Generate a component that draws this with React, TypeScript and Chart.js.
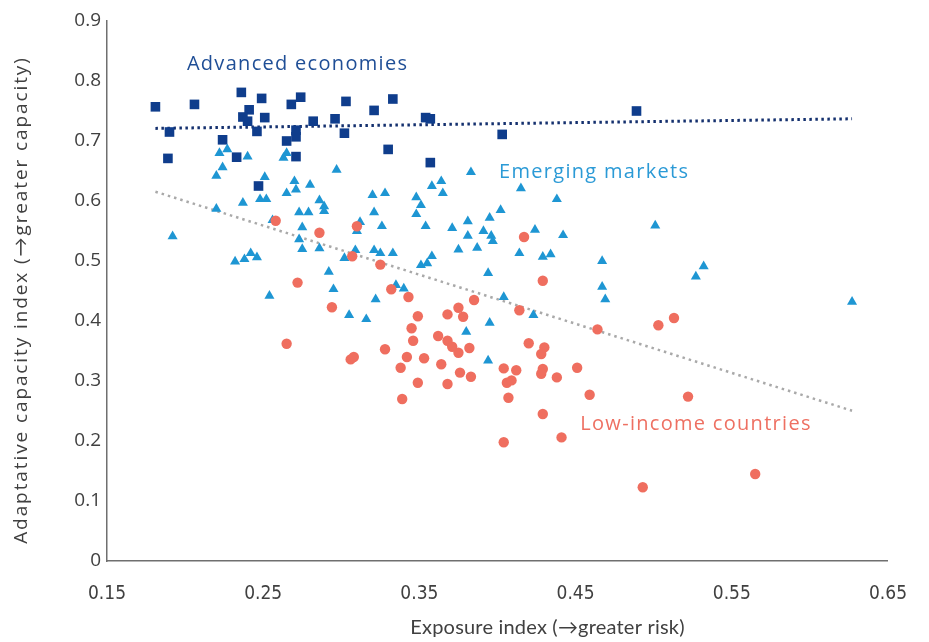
import React, { useEffect, useRef } from 'react';
import { Chart, registerables } from 'chart.js';

Chart.register(...registerables);

// Advanced economies (exposure, adaptive capacity)
const advanced: [number, number][] = [
  [0.181, 0.757], [0.190, 0.715], [0.189, 0.671], [0.206, 0.761], [0.224, 0.702],
  [0.233, 0.673], [0.236, 0.781], [0.241, 0.752], [0.237, 0.740], [0.240, 0.733],
  [0.246, 0.716], [0.247, 0.625], [0.249, 0.771], [0.251, 0.739], [0.268, 0.761],
  [0.274, 0.773], [0.265, 0.700], [0.271, 0.707], [0.271, 0.718], [0.271, 0.674],
  [0.282, 0.733], [0.296, 0.737], [0.302, 0.713], [0.303, 0.766], [0.321, 0.751],
  [0.330, 0.686], [0.333, 0.770], [0.354, 0.739], [0.357, 0.737], [0.357, 0.664],
  [0.403, 0.711], [0.489, 0.750],
];

// Emerging markets
const emerging: [number, number][] = [
  [0.222, 0.680], [0.227, 0.686], [0.240, 0.674], [0.263, 0.672], [0.265, 0.680],
  [0.224, 0.656], [0.220, 0.642], [0.297, 0.652], [0.251, 0.640], [0.270, 0.633],
  [0.271, 0.619], [0.265, 0.613], [0.280, 0.627], [0.320, 0.610], [0.328, 0.613],
  [0.348, 0.606], [0.351, 0.593], [0.358, 0.625], [0.364, 0.633], [0.365, 0.613],
  [0.237, 0.597], [0.248, 0.603], [0.252, 0.603], [0.286, 0.601], [0.289, 0.591],
  [0.289, 0.583], [0.220, 0.587], [0.273, 0.581], [0.279, 0.581], [0.321, 0.581],
  [0.348, 0.578], [0.192, 0.541], [0.256, 0.568], [0.275, 0.556], [0.273, 0.536],
  [0.275, 0.520], [0.286, 0.521], [0.312, 0.565], [0.310, 0.550], [0.326, 0.558],
  [0.354, 0.558], [0.309, 0.518], [0.302, 0.505], [0.321, 0.518], [0.325, 0.513],
  [0.333, 0.513], [0.358, 0.508], [0.351, 0.493], [0.355, 0.496], [0.232, 0.499],
  [0.238, 0.503], [0.242, 0.513], [0.246, 0.506], [0.292, 0.482], [0.295, 0.453],
  [0.335, 0.460], [0.340, 0.454], [0.254, 0.442], [0.322, 0.436], [0.305, 0.410],
  [0.316, 0.403], [0.383, 0.648], [0.415, 0.621], [0.438, 0.603], [0.402, 0.585],
  [0.381, 0.566], [0.395, 0.572], [0.371, 0.555], [0.391, 0.550], [0.396, 0.542],
  [0.397, 0.533], [0.381, 0.542], [0.424, 0.552], [0.442, 0.543], [0.501, 0.559],
  [0.375, 0.519], [0.387, 0.522], [0.414, 0.513], [0.429, 0.507], [0.434, 0.511],
  [0.467, 0.500], [0.394, 0.480], [0.467, 0.457], [0.469, 0.436], [0.404, 0.440],
  [0.423, 0.410], [0.395, 0.397], [0.380, 0.382], [0.394, 0.334], [0.532, 0.491],
  [0.527, 0.474], [0.627, 0.432],
];

// Low-income countries
const lowIncome: [number, number][] = [
  [0.258, 0.567], [0.286, 0.547], [0.310, 0.558], [0.307, 0.508], [0.325, 0.494],
  [0.272, 0.464], [0.332, 0.453], [0.343, 0.440], [0.294, 0.423], [0.385, 0.435],
  [0.417, 0.540], [0.429, 0.467], [0.414, 0.418], [0.464, 0.386], [0.349, 0.408],
  [0.368, 0.411], [0.375, 0.422], [0.378, 0.407], [0.345, 0.388], [0.362, 0.375],
  [0.346, 0.367], [0.368, 0.367], [0.371, 0.357], [0.375, 0.347], [0.382, 0.355],
  [0.265, 0.362], [0.328, 0.353], [0.420, 0.363], [0.430, 0.356], [0.428, 0.345],
  [0.306, 0.336], [0.308, 0.340], [0.342, 0.340], [0.353, 0.338], [0.364, 0.328],
  [0.338, 0.322], [0.376, 0.314], [0.383, 0.307], [0.404, 0.321], [0.412, 0.318],
  [0.429, 0.320], [0.428, 0.312], [0.438, 0.306], [0.451, 0.322], [0.349, 0.297],
  [0.368, 0.295], [0.406, 0.297], [0.409, 0.301], [0.407, 0.272], [0.339, 0.270],
  [0.459, 0.277], [0.429, 0.245], [0.441, 0.206], [0.404, 0.198], [0.503, 0.393],
  [0.513, 0.405], [0.522, 0.274], [0.493, 0.123], [0.565, 0.145],
];

// Trend lines (start and end points)
const advancedTrend: [number, number][] = [[0.181, 0.721], [0.627, 0.737]];
const overallTrend: [number, number][] = [[0.181, 0.6155], [0.627, 0.2505]];

const xTicks = [0.15, 0.25, 0.35, 0.45, 0.55, 0.65];
const yTicks = [0, 0.1, 0.2, 0.3, 0.4, 0.5, 0.6, 0.7, 0.8, 0.9];

const xTitle = 'Exposure index (\u2192greater risk)';
const yTitle = 'Adaptative capacity index (\u2192greater capacity)';

const seriesNames = ['Advanced economies', 'Emerging markets', 'Low-income countries'];
const seriesColors = ['#0f3d8c', '#1e96d3', '#ef6e5f'];
const labelColors = ['#1f4e96', '#2b9ad6', '#ee7062'];
// label anchor in data coordinates
const labelAnchors: { x: number; y: number; align: CanvasTextAlign }[] = [
  { x: 0.272, y: 0.828, align: 'center' },
  { x: 0.401, y: 0.648, align: 'left' },
  { x: 0.453, y: 0.228, align: 'left' },
];

const toPts = (arr: [number, number][]) => arr.map(([x, y]) => ({ x, y }));

const textPlugin = {
  id: 'customText',
  afterDatasetsDraw(chart: any) {
    const { ctx, scales, chartArea } = chart;
    ctx.save();
    // series labels
    ctx.font = '20px "Open Sans", Lato, sans-serif';
    (ctx as any).letterSpacing = '1.3px';
    ctx.textBaseline = 'middle';
    labelAnchors.forEach((a, i) => {
      ctx.fillStyle = labelColors[i];
      ctx.textAlign = a.align;
      ctx.fillText(seriesNames[i], scales.x.getPixelForValue(a.x), scales.y.getPixelForValue(a.y));
    });
    // y axis title
    ctx.fillStyle = '#404040';
    ctx.font = '19px "Open Sans", Lato, sans-serif';
    (ctx as any).letterSpacing = '1.9px';
    ctx.textAlign = 'center';
    ctx.save();
    ctx.translate(22, (chartArea.top + chartArea.bottom) / 2 + 9);
    ctx.rotate(-Math.PI / 2);
    ctx.fillText(yTitle, 0, 0);
    ctx.restore();
    // x axis title
    ctx.font = '20px Lato, sans-serif';
    (ctx as any).letterSpacing = '0.2px';
    ctx.fillText(xTitle, scales.x.getPixelForValue(0.432), 628);
    ctx.restore();
  },
};

export default function App() {
  const ref = useRef<HTMLCanvasElement>(null);
  useEffect(() => {
    if (!ref.current) return;
    const chart = new Chart(ref.current, {
      type: 'scatter',
      data: {
        datasets: [
          {
            label: seriesNames[2],
            data: toPts(lowIncome),
            pointStyle: 'circle',
            pointRadius: 5.2,
            pointBorderWidth: 0,
            backgroundColor: seriesColors[2],
            borderColor: seriesColors[2],
          },
          {
            label: seriesNames[1],
            data: toPts(emerging),
            pointStyle: 'triangle',
            pointRadius: 5.8,
            pointBorderWidth: 0,
            backgroundColor: seriesColors[1],
            borderColor: seriesColors[1],
          },
          {
            label: seriesNames[0],
            data: toPts(advanced),
            pointStyle: 'rect',
            pointRadius: 6.8,
            pointBorderWidth: 0,
            backgroundColor: seriesColors[0],
            borderColor: seriesColors[0],
          },
          {
            type: 'line',
            label: 'Advanced trend',
            data: toPts(advancedTrend),
            showLine: true,
            pointRadius: 0,
            borderColor: '#14306e',
            borderWidth: 3,
            borderDash: [2.5, 3.5],
            fill: false,
          } as any,
          {
            type: 'line',
            label: 'Overall trend',
            data: toPts(overallTrend),
            showLine: true,
            pointRadius: 0,
            borderColor: '#a9a9a9',
            borderWidth: 2.5,
            borderDash: [2.5, 4],
            fill: false,
          } as any,
        ],
      },
      options: {
        responsive: false,
        animation: false,
        layout: { padding: { left: 0, top: 21, right: 36, bottom: 0 } },
        plugins: { legend: { display: false }, tooltip: { enabled: false } },
        scales: {
          x: {
            type: 'linear',
            min: 0.15,
            max: 0.65,
            grid: { display: false, drawTicks: false },
            border: { display: true, color: '#6f6f6f', width: 1.5 },
            afterBuildTicks: (s: any) => { s.ticks = xTicks.map((v) => ({ value: v })); },
            afterFit: (s: any) => { s.height = 81; },
            ticks: {
              color: '#404040',
              padding: 22,
              font: { size: 19, family: '"Liberation Sans Narrow", "DejaVu Sans Condensed", sans-serif' },
              callback: (v: any) => Number(v).toFixed(2),
            },
            title: { display: false },
          },
          y: {
            type: 'linear',
            min: 0,
            max: 0.9,
            grid: { display: false, drawTicks: false },
            border: { display: true, color: '#6f6f6f', width: 1.5 },
            afterBuildTicks: (s: any) => { s.ticks = yTicks.map((v) => ({ value: v })); },
            afterFit: (s: any) => { s.width = 107; },
            ticks: {
              color: '#404040',
              padding: 6,
              font: { size: 19, family: '"Open Sans", Lato, sans-serif' },
              callback: (v: any) => (Number(v) === 0 ? '0' : Number(v).toFixed(1)),
            },
            title: { display: false },
          },
        },
      },
      plugins: [textPlugin],
    });
    return () => chart.destroy();
  }, []);

  return (
    <div style={{ position: 'fixed', left: 0, top: 0, width: 929, height: 642, background: '#fff' }}>
      <canvas ref={ref} width={929} height={642} style={{ display: 'block' }} />
    </div>
  );
}
